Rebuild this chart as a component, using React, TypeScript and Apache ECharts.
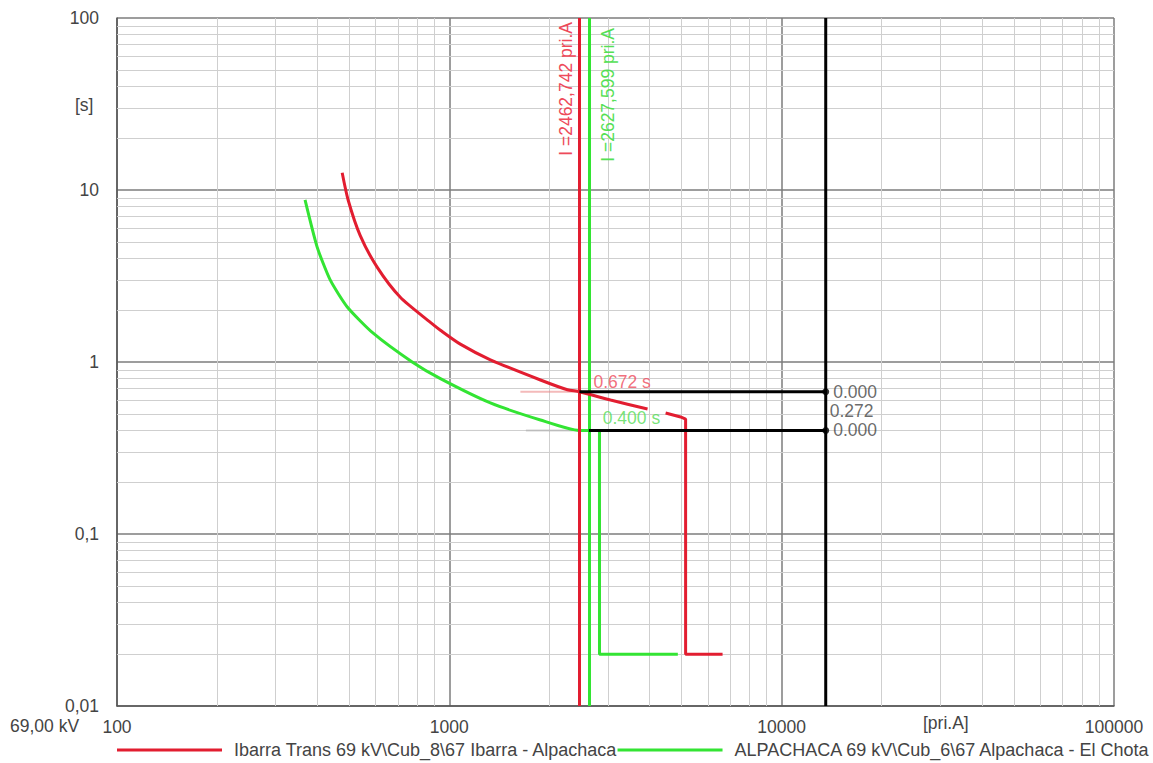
import React, { useEffect, useRef } from "react";
import * as echarts from "echarts";

// ---- data ----
const minorX = [200, 300, 400, 500, 600, 700, 800, 900, 2000, 3000, 4000, 5000, 6000, 7000, 8000, 9000, 20000, 30000, 40000, 50000, 60000, 70000, 80000, 90000];
const minorY = [0.02, 0.03, 0.04, 0.05, 0.06, 0.07, 0.08, 0.09, 0.2, 0.3, 0.4, 0.5, 0.6, 0.7, 0.8, 0.9, 2, 3, 4, 5, 6, 7, 8, 9, 20, 30, 40, 50, 60, 70, 80, 90];

const redName = "Ibarra Trans 69 kV\\Cub_8\\67 Ibarra - Alpachaca";
const greenName = "ALPACHACA 69 kV\\Cub_6\\67 Alpachaca - El Chota";

const redInverseI = [476, 496, 539, 607, 712, 877, 940, 1079, 1329, 1880, 2266, 2462, 3055, 3948];
const redInverseT = [12.6, 8.75, 5.45, 3.55, 2.38, 1.7, 1.53, 1.27, 1.03, 0.786, 0.69, 0.672, 0.601, 0.533];
const redTailI = [4475, 4965, 5140, 5140, 6640];
const redTailT = [0.505, 0.479, 0.466, 0.02, 0.02];

const greenI = [368, 400, 438, 493, 590, 773, 940, 1329, 1880, 2462, 2830, 2830, 4870];
const greenT = [8.75, 4.67, 3.0, 2.09, 1.47, 1.0, 0.8, 0.578, 0.46, 0.4, 0.4, 0.02, 0.02];

const redMarkI = 2462.742;
const greenMarkI = 2627.599;
const redMarkLabel = "I =2462,742 pri.A";
const greenMarkLabel = "I =2627,599 pri.A";
const redOpTime = 0.672;
const greenOpTime = 0.4;
const faultI = 13570;
const redProjStart = 1636;
const greenProjStart = 1700;
const diffLabels = ["0.000", "0.272", "0.000"];
const opLabels = ["0.672 s", "0.400 s"];

const RED = "#e21d30";
const GREEN = "#33e433";
const FONT = "Liberation Sans, Arial, sans-serif";
const FS = 17.5;

const zip = (a: number[], b: number[]) => a.map((v, i) => [v, b[i]]);
const fmt = (v: number) => String(+Number(v).toPrecision(6)).replace(".", ",");

export default function App() {
  const ref = useRef<HTMLDivElement>(null);
  useEffect(() => {
    if (!ref.current) return;
    const chart = echarts.init(ref.current, null, { renderer: "svg" });
    const midT = Math.sqrt(redOpTime * greenOpTime);
    const option: any = {
      animation: false,
      backgroundColor: "#ffffff",
      textStyle: { fontFamily: FONT },
      grid: { left: 117, right: 39, top: 18, bottom: 57 },
      xAxis: {
        type: "log",
        logBase: 10,
        min: 100,
        max: 100000,
        z: 0,
        axisLine: { show: true, onZero: false, lineStyle: { color: "#555", width: 1.5 } },
        axisTick: { show: false },
        axisLabel: { fontSize: FS, color: "#444", margin: 12, fontFamily: FONT, formatter: fmt },
        splitLine: { show: true, lineStyle: { color: "#7d7d7d", width: 1.5 } },
      },
      yAxis: {
        type: "log",
        logBase: 10,
        min: 0.01,
        max: 100,
        z: 0,
        axisLine: { show: true, onZero: false, lineStyle: { color: "#555", width: 1.5 } },
        axisTick: { show: false },
        axisLabel: { fontSize: FS, color: "#444", margin: 18, fontFamily: FONT, formatter: fmt },
        splitLine: { show: true, lineStyle: { color: "#7d7d7d", width: 1.5 } },
      },
      legend: {
        data: [redName, greenName],
        left: 117,
        top: 741,
        padding: 0,
        icon: "rect",
        itemWidth: 105,
        itemHeight: 3,
        itemGap: 0,
        textStyle: { fontSize: 18, color: "#444", fontFamily: FONT, padding: [0, 0, 0, 7] },
      },
      graphic: [
        { type: "text", left: 75, top: 96, style: { text: "[s]", fontSize: FS, fill: "#444", fontFamily: FONT } },
        { type: "text", left: 10, top: 717, style: { text: "69,00 kV", fontSize: FS, fill: "#444", fontFamily: FONT } },
        { type: "text", left: 923, top: 714, style: { text: "[pri.A]", fontSize: FS, fill: "#444", fontFamily: FONT } },
      ],
      series: [
        {
          type: "line",
          data: [],
          silent: true,
          z: 1,
          markLine: {
            silent: true,
            z: 1,
            symbol: ["none", "none"],
            label: { show: false },
            lineStyle: { color: "#cfcfcf", width: 1, type: "solid" },
            emphasis: { disabled: true },
            data: [...minorX.map((v) => ({ xAxis: v })), ...minorY.map((v) => ({ yAxis: v }))],
          },
        },
        {
          type: "line",
          data: [[redProjStart, redOpTime], [redMarkI, redOpTime]],
          showSymbol: false,
          silent: true,
          lineStyle: { color: "rgba(235,130,130,0.55)", width: 2 },
          z: 2,
        },
        {
          type: "line",
          data: [[greenProjStart, greenOpTime], [redMarkI, greenOpTime]],
          showSymbol: false,
          silent: true,
          lineStyle: { color: "rgba(170,170,170,0.5)", width: 2 },
          z: 2,
        },
        {
          name: redName,
          type: "line",
          color: RED,
          data: zip(redInverseI, redInverseT),
          showSymbol: false,
          smooth: 0.25,
          lineStyle: { color: RED, width: 3 },
          z: 4,
          markLine: {
            silent: true,
            z: 4,
            symbol: ["none", "none"],
            lineStyle: { color: RED, width: 3, type: "solid" },
            label: {
              show: true,
              position: "insideEndTop",
              distance: 4,
              formatter: redMarkLabel,
              color: "#ee4a5a",
              fontSize: FS,
              fontFamily: FONT,
            },
            data: [{ xAxis: redMarkI }],
          },
        },
        {
          name: redName,
          type: "line",
          color: RED,
          data: zip(redTailI, redTailT),
          showSymbol: false,
          lineStyle: { color: RED, width: 3 },
          z: 4,
        },
        {
          name: greenName,
          type: "line",
          color: GREEN,
          data: zip(greenI, greenT),
          showSymbol: false,
          smooth: 0.2,
          lineStyle: { color: GREEN, width: 3 },
          z: 3,
          markLine: {
            silent: true,
            z: 3,
            symbol: ["none", "none"],
            lineStyle: { color: GREEN, width: 3, type: "solid" },
            label: {
              show: true,
              position: "insideEndBottom",
              distance: 10,
              formatter: greenMarkLabel,
              color: "#55e055",
              fontSize: FS,
              fontFamily: FONT,
            },
            data: [{ xAxis: greenMarkI }],
          },
        },
        {
          type: "line",
          data: [[faultI, 0.01], [faultI, 100]],
          showSymbol: false,
          silent: true,
          lineStyle: { color: "#000", width: 3 },
          z: 5,
        },
        {
          type: "line",
          data: [[redMarkI, redOpTime], [faultI, redOpTime]],
          showSymbol: false,
          silent: true,
          lineStyle: { color: "#000", width: 3 },
          z: 5,
        },
        {
          type: "line",
          data: [[greenMarkI, greenOpTime], [faultI, greenOpTime]],
          showSymbol: false,
          silent: true,
          lineStyle: { color: "#000", width: 3 },
          z: 5,
        },
        {
          type: "scatter",
          silent: true,
          z: 6,
          data: [
            { value: [faultI, redOpTime], symbolSize: 7, label: { formatter: diffLabels[0] } },
            { value: [faultI, midT], symbolSize: 0, label: { formatter: diffLabels[1] } },
            { value: [faultI, greenOpTime], symbolSize: 7, label: { formatter: diffLabels[2] } },
          ],
          itemStyle: { color: "#000" },
          label: { show: true, position: "right", distance: 4, color: "#444", fontSize: FS, fontFamily: FONT },
        },
        {
          type: "scatter",
          silent: true,
          z: 6,
          symbolSize: 0,
          data: [
            { value: [redMarkI, redOpTime], label: { formatter: opLabels[0], color: "#ee4a5a", distance: 14, offset: [0, -10] } },
            { value: [greenMarkI, greenOpTime], label: { formatter: opLabels[1], color: "#55dd55", distance: 14, offset: [0, -12] } },
          ],
          label: { show: true, position: "right", fontSize: FS, fontFamily: FONT },
        },
      ],
    };
    chart.setOption(option);
    return () => chart.dispose();
  }, []);
  return (
    <div
      ref={ref}
      style={{ position: "fixed", left: 0, top: 0, width: 1153, height: 763, background: "#fff" }}
    />
  );
}
